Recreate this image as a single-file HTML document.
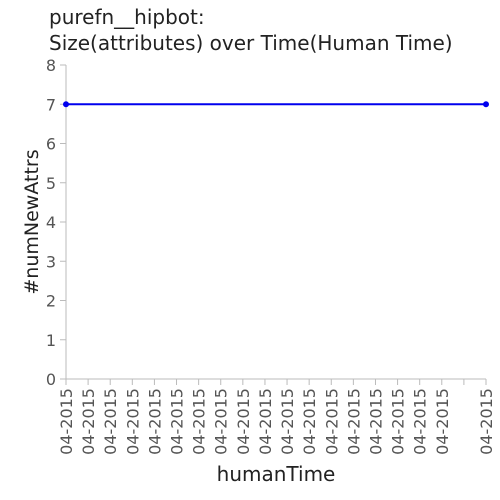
<!DOCTYPE html>
<html><head><meta charset="utf-8"><style>
body{margin:0;background:#fff}
svg{display:block;font-family:"DejaVu Sans","Liberation Sans",sans-serif}
</style></head><body>
<svg id="chart" width="500" height="500">
<text x="49" y="24" font-size="20" fill="#222">purefn__hipbot:</text>
<text x="49" y="50" font-size="20" fill="#222">Size(attributes) over Time(Human Time)</text>
<text transform="translate(38,222) rotate(-90)" text-anchor="middle" font-size="19" fill="#222">#numNewAttrs</text>
<text x="276" y="481" text-anchor="middle" font-size="20" fill="#222">humanTime</text>
<g id="axes"></g>
<g id="marks"></g>
</svg>
<script>
const xLabels = ["04-2015","04-2015","04-2015","04-2015","04-2015","04-2015","04-2015","04-2015","04-2015","04-2015","04-2015","04-2015","04-2015","04-2015","04-2015","04-2015","04-2015","04-2015","","04-2015"];
const yTicks = [0,1,2,3,4,5,6,7,8];
const pointIdx = [0,19];
const values = [7,7];
const NS="http://www.w3.org/2000/svg";
const X0=66,X1=486,Y0=379,Y1=65;
function xs(i){return X0+(X1-X0)*i/(xLabels.length-1);}
function ys(v){return Y0-(Y0-Y1)*v/8;}
function mk(t,a,p){const e=document.createElementNS(NS,t);for(const k in a)e.setAttribute(k,a[k]);p.appendChild(e);return e;}
const axes=document.getElementById('axes'),marks=document.getElementById('marks');
const ya=mk('line',{x1:X0,y1:Y1,x2:X0,y2:Y0,stroke:'#bbb'},axes);


const xa=mk('line',{x1:X0,y1:Y0,x2:X1,y2:Y0,stroke:'#bbb'},axes);


yTicks.forEach(v=>{
 const tk=mk('line',{x1:X0-6,y1:ys(v),x2:X0,y2:ys(v),stroke:'#bbb'},axes);
 
 
 const t=mk('text',{x:X0-10,y:ys(v)+6,'text-anchor':'end','font-size':16,fill:'#555'},axes);
 t.textContent=v;
 
 
});
xLabels.forEach((l,i)=>{
 const x=xs(i);
 const tk=mk('line',{x1:x,y1:Y0,x2:x,y2:Y0+6,stroke:'#bbb'},axes);
 
 
 if(l){
  const t=mk('text',{transform:`translate(${x+6},${Y0+9}) rotate(-90)`,'text-anchor':'end','font-size':16,fill:'#555'},axes);
  t.textContent=l;
  
  
 }
});
const pts=pointIdx.map((i,k)=>xs(i)+','+ys(values[k])).join(' ');
const ln=mk('polyline',{points:pts,fill:'none',stroke:'#0000ee','stroke-width':2},marks);


pointIdx.forEach((i,k)=>{
 const c=mk('circle',{cx:xs(i),cy:ys(values[k]),r:2.5,fill:'#0000ee',stroke:'#0000ee','stroke-width':1},marks);
 
 
});
</script>
</body></html>
